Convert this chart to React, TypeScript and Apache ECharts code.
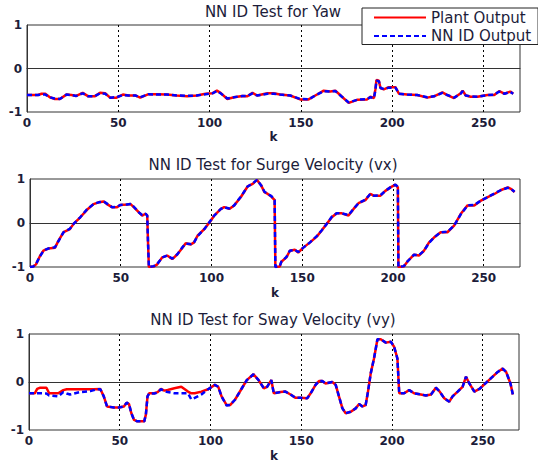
import React, { useEffect, useRef } from 'react';
import * as echarts from 'echarts';

// ---- axes ----
const X_MIN = 0;
const X_MAX = 270;
const X_STEP = 50;
const Y_MIN = -1;
const Y_MAX = 1;
const Y_STEP = 1;

const titles = [
  'NN ID Test for Yaw',
  'NN ID Test for Surge Velocity (vx)',
  'NN ID Test for Sway Velocity (vy)',
];
const legendNames = ['Plant Output', 'NN ID Output'];
const xName = 'k';

// ---- data: [k, value] ----
const yawPlant = [
  [0, -0.61], [6, -0.61], [8, -0.58], [10, -0.58], [12.5, -0.66], [15, -0.7], [18, -0.7], [21.6, -0.6],
  [24.4, -0.61], [27, -0.63], [30.5, -0.56], [33.6, -0.64], [37, -0.64], [40, -0.56], [42.8, -0.57],
  [45.5, -0.67], [49, -0.67], [52.5, -0.6], [55.6, -0.62], [59.3, -0.62], [62, -0.67], [66.6, -0.59],
  [71, -0.59], [76.7, -0.6], [82, -0.62], [87.7, -0.64], [93, -0.62], [97.8, -0.58], [101.5, -0.57],
  [104, -0.51], [106, -0.56], [109.7, -0.7], [113.4, -0.66], [118, -0.63], [120.7, -0.64], [123.5, -0.56],
  [126, -0.62], [131.7, -0.57], [135, -0.57], [138.6, -0.6], [144.1, -0.62], [149.6, -0.71], [154.2, -0.71],
  [157.9, -0.62], [162.5, -0.51], [166.1, -0.53], [168.9, -0.51], [172.5, -0.65], [176.2, -0.79],
  [180.8, -0.72], [186.3, -0.71], [188.1, -0.65], [190, -0.68], [190.8, -0.48], [191.4, -0.26],
  [192.7, -0.28], [193.6, -0.45], [195.4, -0.48], [198.2, -0.43], [201.8, -0.43], [203.7, -0.58],
  [208.2, -0.6], [213.7, -0.61], [219.2, -0.67], [222.9, -0.64], [227.5, -0.55], [230.2, -0.61],
  [233.9, -0.68], [237.5, -0.57], [238.6, -0.51], [240.3, -0.62], [243, -0.65], [246.7, -0.65],
  [252.2, -0.61], [255.9, -0.61], [258.6, -0.52], [261.4, -0.58], [264.7, -0.53], [266.3, -0.58],
];
const yawNN = [
  [0, -0.61], [6, -0.61], [8, -0.6], [10, -0.6], [12.5, -0.66], [15, -0.69], [18, -0.7], [21.6, -0.6],
  [24.4, -0.61], [27, -0.63], [30.5, -0.57], [33.6, -0.64], [37, -0.64], [40, -0.57], [42.8, -0.58],
  [45.5, -0.67], [49, -0.66], [52.5, -0.61], [55.6, -0.62], [59.3, -0.62], [62, -0.66], [66.6, -0.59],
  [71, -0.6], [76.7, -0.6], [82, -0.62], [87.7, -0.63], [93, -0.62], [97.8, -0.59], [101.5, -0.57],
  [104, -0.52], [106, -0.57], [109.7, -0.69], [113.4, -0.66], [118, -0.63], [120.7, -0.63], [123.5, -0.57],
  [126, -0.62], [131.7, -0.58], [135, -0.58], [138.6, -0.6], [144.1, -0.62], [149.6, -0.7], [154.2, -0.71],
  [157.9, -0.62], [162.5, -0.52], [166.1, -0.53], [168.9, -0.52], [172.5, -0.65], [176.2, -0.78],
  [180.8, -0.72], [186.3, -0.7], [188.1, -0.66], [190, -0.68], [190.8, -0.5], [191.4, -0.28],
  [192.7, -0.29], [193.6, -0.45], [195.4, -0.47], [198.2, -0.44], [201.8, -0.44], [203.7, -0.58],
  [208.2, -0.6], [213.7, -0.61], [219.2, -0.66], [222.9, -0.64], [227.5, -0.56], [230.2, -0.61],
  [233.9, -0.67], [237.5, -0.58], [238.6, -0.52], [240.3, -0.62], [243, -0.64], [246.7, -0.65],
  [252.2, -0.61], [255.9, -0.6], [258.6, -0.53], [261.4, -0.58], [264.7, -0.54], [266.3, -0.58],
];

const surgePlant = [
  [0, -1.0], [1.8, -0.99], [3.3, -0.94], [5.5, -0.75], [7.4, -0.63], [10, -0.58], [13.8, -0.56],
  [15.7, -0.4], [18.5, -0.21], [22, -0.14], [24, -0.02], [27.7, 0.13], [31.4, 0.3], [35, 0.43],
  [37.8, 0.47], [40.6, 0.49], [42.4, 0.43], [45.2, 0.36], [48, 0.36], [49.8, 0.41], [53.5, 0.42],
  [55.4, 0.43], [57.2, 0.36], [60, 0.24], [61.8, 0.17], [63.7, 0.21], [64.6, 0.17], [65, -0.4],
  [65.5, -1.0], [68.3, -0.99], [70.1, -0.94], [72.9, -0.78], [75.6, -0.74], [78.4, -0.82], [81.2, -0.71],
  [84, -0.56], [85.8, -0.46], [88.6, -0.49], [90.4, -0.44], [92.3, -0.29], [96, -0.14], [99.6, 0.05],
  [101.5, 0.17], [105.2, 0.32], [107, 0.36], [109.8, 0.32], [112.5, 0.4], [116.2, 0.59], [119.9, 0.83],
  [122.7, 0.89], [125.1, 0.98], [127.3, 0.86], [129.2, 0.7], [131, 0.66], [133, 0.6], [134.8, 0.52],
  [135.2, -1.0], [137.6, -0.99], [138.5, -0.88], [141.3, -0.78], [143.2, -0.63], [145.9, -0.61],
  [147.8, -0.67], [150.6, -0.56], [154.3, -0.44], [158, -0.31], [160.7, -0.17], [163.5, -0.02],
  [166.3, 0.13], [169, 0.22], [171.8, 0.22], [175.5, 0.17], [178.3, 0.32], [181, 0.45], [184.8, 0.52],
  [187.5, 0.66], [189.4, 0.62], [193.1, 0.62], [195.8, 0.73], [198.6, 0.81], [201.4, 0.87], [202.7, 0.81],
  [203, -1.0], [206, -0.99], [207.9, -0.88], [211.6, -0.72], [214.3, -0.74], [217.1, -0.63], [219.9, -0.44],
  [222.6, -0.33], [226.3, -0.21], [230, -0.21], [233.7, -0.06], [237.4, 0.21], [241.1, 0.4], [244.8, 0.4],
  [248.5, 0.51], [252.2, 0.59], [255.9, 0.66], [259.6, 0.75], [263.3, 0.81], [265.2, 0.77], [267, 0.7],
];
const surgeNN = [
  [0, -1.0], [1.8, -0.99], [3.3, -0.93], [5.5, -0.76], [7.4, -0.63], [10, -0.58], [13.8, -0.55],
  [15.7, -0.41], [18.5, -0.21], [22, -0.13], [24, -0.02], [27.7, 0.13], [31.4, 0.31], [35, 0.43],
  [37.8, 0.47], [40.6, 0.49], [42.4, 0.44], [45.2, 0.36], [48, 0.37], [49.8, 0.41], [53.5, 0.42],
  [55.4, 0.43], [57.2, 0.37], [60, 0.24], [61.8, 0.18], [63.7, 0.21], [64.6, 0.17], [65, -0.4],
  [65.5, -1.0], [68.3, -0.98], [70.1, -0.93], [72.9, -0.78], [75.6, -0.74], [78.4, -0.81], [81.2, -0.71],
  [84, -0.55], [85.8, -0.47], [88.6, -0.48], [90.4, -0.44], [92.3, -0.3], [96, -0.14], [99.6, 0.06],
  [101.5, 0.17], [105.2, 0.32], [107, 0.36], [109.8, 0.33], [112.5, 0.4], [116.2, 0.6], [119.9, 0.83],
  [122.7, 0.9], [125.1, 0.98], [127.3, 0.86], [129.2, 0.71], [131, 0.66], [133, 0.61], [134.8, 0.52],
  [135.2, -1.0], [137.6, -0.98], [138.5, -0.88], [141.3, -0.77], [143.2, -0.63], [145.9, -0.61],
  [147.8, -0.66], [150.6, -0.56], [154.3, -0.44], [158, -0.3], [160.7, -0.17], [163.5, -0.02],
  [166.3, 0.14], [169, 0.22], [171.8, 0.22], [175.5, 0.18], [178.3, 0.32], [181, 0.45], [184.8, 0.53],
  [187.5, 0.66], [189.4, 0.62], [193.1, 0.63], [195.8, 0.73], [198.6, 0.81], [201.4, 0.87], [202.7, 0.82],
  [203, -1.0], [206, -0.98], [207.9, -0.88], [211.6, -0.72], [214.3, -0.73], [217.1, -0.63], [219.9, -0.45],
  [222.6, -0.33], [226.3, -0.21], [230, -0.2], [233.7, -0.06], [237.4, 0.2], [241.1, 0.4], [244.8, 0.41],
  [248.5, 0.51], [252.2, 0.59], [255.9, 0.67], [259.6, 0.75], [263.3, 0.8], [265.2, 0.77], [267, 0.71],
];

const swayPlant = [
  [0, -0.235], [3.2, -0.235], [4.5, -0.145], [5.9, -0.12], [9.6, -0.12], [11.1, -0.235], [16.1, -0.235],
  [18.9, -0.17], [20.8, -0.15], [28.2, -0.15], [35.6, -0.15], [39.3, -0.145], [41.2, -0.3], [43, -0.51],
  [46.8, -0.53], [49.5, -0.53], [52.3, -0.51], [53.8, -0.43], [55.1, -0.46], [56.4, -0.65], [57.9, -0.79],
  [59.7, -0.82], [63.5, -0.82], [64.4, -0.68], [65.3, -0.3], [66.2, -0.235], [69, -0.235], [70.9, -0.21],
  [72.7, -0.145], [74.6, -0.18], [76.4, -0.165], [80.1, -0.13], [83.9, -0.1], [87.6, -0.2], [89.4, -0.235],
  [91.3, -0.235], [95, -0.2], [98.7, -0.15], [102.4, -0.06], [104.3, -0.1], [106.1, -0.3], [108.9, -0.48],
  [110.8, -0.48], [113.5, -0.37], [117.3, -0.13], [120, 0.04], [123.7, 0.16], [126.5, 0.04], [129.4, -0.13],
  [131.2, -0.1], [133.5, 0.04], [134.9, -0.235], [138.6, -0.21], [141.3, -0.2], [144.1, -0.26],
  [146.9, -0.33], [149.6, -0.33], [153.3, -0.34], [155.2, -0.235], [157.9, -0.06], [159.8, 0.02],
  [161.6, 0.02], [163.4, -0.03], [167.1, 0.0], [169, -0.06], [170.8, -0.3], [172.7, -0.55], [174.5, -0.65],
  [177.3, -0.62], [180, -0.55], [181.9, -0.46], [183.7, -0.51], [185.5, -0.48], [186.8, -0.2], [188.3, 0.18],
  [190.1, 0.49], [192, 0.89], [193.8, 0.89], [196.6, 0.82], [199.4, 0.84], [201.2, 0.73], [203, 0.49],
  [204, -0.235], [206.7, -0.235], [209.5, -0.17], [212.2, -0.235], [215.9, -0.26], [218.7, -0.28],
  [221.5, -0.26], [224.2, -0.12], [226.1, -0.19], [228.8, -0.34], [231.6, -0.41], [233.4, -0.3],
  [236.2, -0.2], [238.9, -0.1], [240.8, 0.11], [242.6, -0.03], [245.4, -0.2], [248.2, -0.145],
  [250.9, -0.05], [254.6, 0.08], [258.3, 0.21], [261, 0.28], [262.9, 0.21], [265.3, -0.03], [266.6, -0.26],
];
const swayNN = [
  [0, -0.235], [3.2, -0.235], [4.5, -0.235], [5.9, -0.235], [9.6, -0.24], [11.1, -0.28], [16.1, -0.3],
  [18.9, -0.21], [20.8, -0.24], [22.6, -0.26], [28.2, -0.21], [33.8, -0.19], [37.5, -0.15], [39.3, -0.15],
  [41.2, -0.3], [43, -0.51], [46.8, -0.53], [49.5, -0.53], [52.3, -0.51], [53.8, -0.43], [55.1, -0.46],
  [56.4, -0.65], [57.9, -0.79], [59.7, -0.82], [63.5, -0.82], [64.4, -0.68], [65.3, -0.3], [66.2, -0.24],
  [69, -0.24], [70.9, -0.22], [72.7, -0.15], [74.6, -0.19], [76.4, -0.21], [80.1, -0.235], [83.9, -0.235],
  [87.6, -0.235], [89.4, -0.36], [91.3, -0.33], [95, -0.26], [98.7, -0.15], [102.4, -0.06], [104.3, -0.1],
  [106.1, -0.3], [108.9, -0.49], [110.8, -0.48], [113.5, -0.37], [117.3, -0.13], [120, 0.04], [123.7, 0.16],
  [126.5, 0.04], [129.4, -0.13], [131.2, -0.1], [133.5, 0.04], [134.9, -0.235], [138.6, -0.21],
  [141.3, -0.2], [144.1, -0.26], [146.9, -0.33], [149.6, -0.33], [153.3, -0.34], [155.2, -0.235],
  [157.9, -0.06], [159.8, 0.02], [161.6, 0.02], [163.4, -0.03], [167.1, 0.0], [169, -0.06], [170.8, -0.3],
  [172.7, -0.55], [174.5, -0.65], [177.3, -0.62], [180, -0.55], [181.9, -0.46], [183.7, -0.51],
  [185.5, -0.48], [186.8, -0.2], [188.3, 0.18], [190.1, 0.49], [192, 0.89], [193.8, 0.89], [196.6, 0.82],
  [199.4, 0.84], [201.2, 0.73], [203, 0.49], [204, -0.235], [206.7, -0.235], [209.5, -0.17], [212.2, -0.235],
  [215.9, -0.26], [218.7, -0.28], [221.5, -0.26], [224.2, -0.12], [226.1, -0.19], [228.8, -0.34],
  [231.6, -0.41], [233.4, -0.3], [236.2, -0.2], [238.9, -0.1], [240.8, 0.11], [242.6, -0.03], [245.4, -0.2],
  [248.2, -0.145], [250.9, -0.05], [254.6, 0.08], [258.3, 0.21], [261, 0.28], [262.9, 0.21], [265.3, -0.03],
  [266.6, -0.26],
];

const plantSeries = [yawPlant, surgePlant, swayPlant];
const nnSeries = [yawNN, surgeNN, swayNN];

export default function App() {
  const ref = useRef<HTMLDivElement>(null);

  useEffect(() => {
    if (!ref.current) return;
    const chart = echarts.init(ref.current, null, { renderer: 'svg' });

    const grids = [
      { left: 27, top: 25, width: 493, height: 87 },
      { left: 30, top: 179, width: 490, height: 88 },
      { left: 29, top: 334, width: 490, height: 96 },
    ];
    const titleTops = [4, 157, 312];
    const nameGaps = [19, 20, 20];
    const textColor = '#1c1c3a';
    const labelStyle = {
      fontFamily: 'DejaVu Sans',
      fontWeight: 'bold' as const,
      fontSize: 12,
      color: textColor,
    };

    const option: any = {
      animation: false,
      backgroundColor: '#ffffff',
      title: titles.map((t, i) => ({
        text: t,
        left: 273,
        top: titleTops[i],
        textAlign: 'center',
        padding: 0,
        textStyle: {
          fontFamily: 'DejaVu Sans',
          fontWeight: 'normal',
          fontSize: 15,
          color: textColor,
        },
      })),
      legend: {
        data: legendNames,
        orient: 'vertical',
        left: 362,
        top: 8,
        itemWidth: 52,
        itemHeight: 14,
        itemGap: 3.5,
        padding: [2, 7, 1, 11],
        backgroundColor: '#ffffff',
        borderColor: '#222222',
        borderWidth: 1,
        borderRadius: 0,
        itemStyle: { opacity: 0 },
        textStyle: {
          fontFamily: 'DejaVu Sans',
          fontSize: 15,
          color: textColor,
        },
      },
      grid: grids.map((g) => ({
        ...g,
        show: true,
        borderColor: '#333333',
        borderWidth: 1,
        backgroundColor: '#ffffff',
        containLabel: false,
      })),
      xAxis: grids.map((_, i) => ({
        type: 'value',
        gridIndex: i,
        min: X_MIN,
        max: X_MAX,
        interval: X_STEP,
        name: xName,
        nameLocation: 'middle',
        nameGap: nameGaps[i],
        nameTextStyle: labelStyle,
        axisLine: { show: true, lineStyle: { color: '#333333', width: 1 } },
        axisTick: { show: false },
        axisLabel: { ...labelStyle, margin: 5, showMaxLabel: false },
        splitLine: {
          show: true,
          showMinLine: false,
          showMaxLine: false,
          lineStyle: { color: '#000000', type: [2, 3], width: 1 },
        },
      })),
      yAxis: grids.map((_, i) => ({
        type: 'value',
        gridIndex: i,
        min: Y_MIN,
        max: Y_MAX,
        interval: Y_STEP,
        axisLine: { show: true, lineStyle: { color: '#333333', width: 1 } },
        axisTick: { show: false },
        axisLabel: { ...labelStyle, margin: 5 },
        splitLine: {
          show: true,
          showMinLine: false,
          showMaxLine: false,
          lineStyle: { color: '#555555', type: [4, 4], width: 1 },
        },
      })),
      series: [
        ...plantSeries.map((d, i) => ({
          name: legendNames[0],
          type: 'line',
          xAxisIndex: i,
          yAxisIndex: i,
          data: d,
          symbol: 'none',
          lineStyle: { color: '#ff0000', width: 2.5 },
          itemStyle: { color: '#ff0000' },
          z: 2,
        })),
        ...nnSeries.map((d, i) => ({
          name: legendNames[1],
          type: 'line',
          xAxisIndex: i,
          yAxisIndex: i,
          data: d,
          symbol: 'none',
          lineStyle: { color: '#0000ff', width: 2.5, type: [5, 3] },
          itemStyle: { color: '#0000ff' },
          z: 3,
        })),
      ],
    };

    chart.setOption(option);
    return () => chart.dispose();
  }, []);

  return (
    <div
      ref={ref}
      style={{ position: 'absolute', left: 0, top: 0, width: 538, height: 464, background: '#ffffff' }}
    />
  );
}
